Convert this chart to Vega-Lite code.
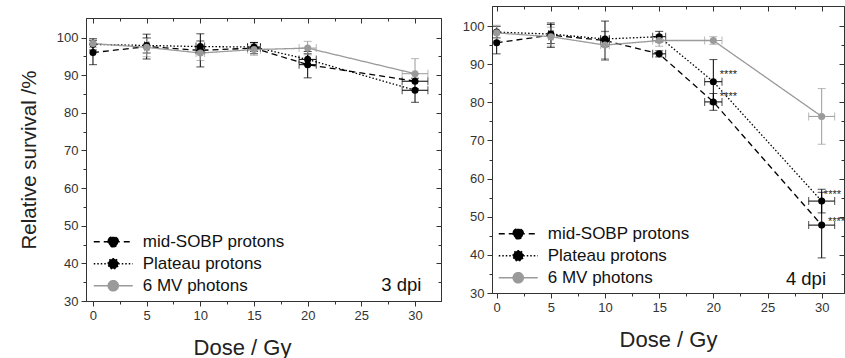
{
  "$schema": "https://vega.github.io/schema/vega-lite/v6.json",
  "padding": {"left": 18, "top": 5, "right": 0, "bottom": 0},
  "spacing": 19,
  "background": "white",
  "config": {
    "view": {"stroke": "#333333", "strokeWidth": 1},
    "font": "Liberation Sans",
    "axis": {"labelFont": "Liberation Sans", "labelFontSize": 13, "labelColor": "#333333", "titleFont": "Liberation Sans", "titleFontWeight": "normal", "titleColor": "#222222", "domainColor": "#333333", "tickColor": "#333333", "grid": false, "labelPadding": 3, "labelFlush": false, "labelOverlap": false},
    "title": {"font": "Liberation Sans"}
  },
  "datasets": {
    "d3": [
      {"series": "mid-SOBP protons", "dose": 0, "surv": 96.0, "yerr": 3.2, "xerr": 0},
      {"series": "mid-SOBP protons", "dose": 5, "surv": 97.6, "yerr": 3.3, "xerr": 0.2},
      {"series": "mid-SOBP protons", "dose": 10, "surv": 96.6, "yerr": 4.4, "xerr": 0.4},
      {"series": "mid-SOBP protons", "dose": 15, "surv": 97.2, "yerr": 1.5, "xerr": 0.6},
      {"series": "mid-SOBP protons", "dose": 20, "surv": 92.8, "yerr": 3.5, "xerr": 0.8},
      {"series": "mid-SOBP protons", "dose": 30, "surv": 88.4, "yerr": 2.0, "xerr": 1.2},
      {"series": "Plateau protons", "dose": 0, "surv": 98.2, "yerr": 1.5, "xerr": 0},
      {"series": "Plateau protons", "dose": 5, "surv": 97.9, "yerr": 2.0, "xerr": 0.2},
      {"series": "Plateau protons", "dose": 10, "surv": 97.6, "yerr": 1.5, "xerr": 0.4},
      {"series": "Plateau protons", "dose": 15, "surv": 97.5, "yerr": 1.2, "xerr": 0.6},
      {"series": "Plateau protons", "dose": 20, "surv": 94.2, "yerr": 1.5, "xerr": 0.8},
      {"series": "Plateau protons", "dose": 30, "surv": 86.0, "yerr": 3.2, "xerr": 1.2},
      {"series": "6 MV photons", "dose": 0, "surv": 98.4, "yerr": 1.0, "xerr": 0},
      {"series": "6 MV photons", "dose": 5, "surv": 97.4, "yerr": 2.5, "xerr": 0.2},
      {"series": "6 MV photons", "dose": 10, "surv": 95.9, "yerr": 2.0, "xerr": 0.4},
      {"series": "6 MV photons", "dose": 15, "surv": 96.8, "yerr": 1.5, "xerr": 0.6},
      {"series": "6 MV photons", "dose": 20, "surv": 97.2, "yerr": 1.8, "xerr": 0.8},
      {"series": "6 MV photons", "dose": 30, "surv": 90.4, "yerr": 4.0, "xerr": 1.2}
    ],
    "d4": [
      {"series": "mid-SOBP protons", "dose": 0, "surv": 95.6, "yerr": 2.9, "xerr": 0},
      {"series": "mid-SOBP protons", "dose": 5, "surv": 97.6, "yerr": 3.2, "xerr": 0.2},
      {"series": "mid-SOBP protons", "dose": 10, "surv": 96.2, "yerr": 5.1, "xerr": 0.4},
      {"series": "mid-SOBP protons", "dose": 15, "surv": 92.7, "yerr": 0.8, "xerr": 0.6},
      {"series": "mid-SOBP protons", "dose": 20, "surv": 80.1, "yerr": 2.2, "xerr": 0.8},
      {"series": "mid-SOBP protons", "dose": 30, "surv": 47.8, "yerr": 8.6, "xerr": 1.2},
      {"series": "Plateau protons", "dose": 0, "surv": 98.4, "yerr": 1.5, "xerr": 0},
      {"series": "Plateau protons", "dose": 5, "surv": 97.9, "yerr": 2.5, "xerr": 0.2},
      {"series": "Plateau protons", "dose": 10, "surv": 96.6, "yerr": 2.0, "xerr": 0.4},
      {"series": "Plateau protons", "dose": 15, "surv": 97.2, "yerr": 1.4, "xerr": 0.6},
      {"series": "Plateau protons", "dose": 20, "surv": 85.4, "yerr": 5.8, "xerr": 0.8},
      {"series": "Plateau protons", "dose": 30, "surv": 54.1, "yerr": 3.1, "xerr": 1.2},
      {"series": "6 MV photons", "dose": 0, "surv": 98.2, "yerr": 2.0, "xerr": 0},
      {"series": "6 MV photons", "dose": 5, "surv": 97.2, "yerr": 2.5, "xerr": 0.2},
      {"series": "6 MV photons", "dose": 10, "surv": 95.0, "yerr": 3.5, "xerr": 0.4},
      {"series": "6 MV photons", "dose": 15, "surv": 96.2, "yerr": 1.5, "xerr": 0.6},
      {"series": "6 MV photons", "dose": 20, "surv": 96.2, "yerr": 1.0, "xerr": 0.8},
      {"series": "6 MV photons", "dose": 30, "surv": 76.3, "yerr": 7.3, "xerr": 1.2}
    ]
  },
  "hconcat": [
    {
      "spacing": 0,
      "vconcat": [
        {
          "width": 355,
          "height": 11,
          "view": {"stroke": null},
          "data": {"values": []},
          "mark": "point"
        },
        {
          "width": 355,
          "height": 283,
          "data": {"name": "d3"},
          "layer": [
            {
              "mark": {"type": "line", "strokeWidth": 1.3},
              "encoding": {
                "x": {"field": "dose", "type": "quantitative", "scale": {"domain": [-0.65, 32.42], "nice": false, "zero": false},
                  "axis": {"orient": "bottom", "values": [0, 2.5, 5, 7.5, 10, 12.5, 15, 17.5, 20, 22.5, 25, 27.5, 30], "labelExpr": "datum.value % 5 === 0 ? datum.label : ''", "tickSize": {"condition": {"test": "datum.value % 5 === 0", "value": 5}, "value": 3}, "title": "Dose / Gy", "titleFontSize": 22, "titlePadding": 15, "titleX": 156}},
                "y": {"field": "surv", "type": "quantitative", "scale": {"domain": [30, 105.2], "nice": false, "zero": false},
                  "axis": {"orient": "left", "values": [30, 35, 40, 45, 50, 55, 60, 65, 70, 75, 80, 85, 90, 95, 100], "labelExpr": "datum.value % 10 === 0 ? datum.label : ''", "tickSize": {"condition": {"test": "datum.value % 10 === 0", "value": 5}, "value": 3}, "title": "Relative survival /%", "titleFontSize": 20.5, "titlePadding": 17}},
                "color": {"field": "series", "type": "nominal", "scale": {"domain": ["mid-SOBP protons", "Plateau protons", "6 MV photons"], "range": ["#000000", "#000000", "#9a9a9a"]},
                  "legend": {"orient": "none", "legendX": 16.75, "legendY": 213.25, "title": null, "padding": 0, "labelFont": "Liberation Sans", "labelFontSize": 17, "labelColor": "#111111", "symbolType": "M-2,0H2M-0.52,0A0.52,0.52,0,1,1,0.52,0A0.52,0.52,0,1,1,-0.52,0", "symbolSize": 380, "symbolStrokeWidth": 1.5, "labelOffset": 19, "rowPadding": 3, "labelLimit": 300, "encode": {"symbols": {"update": {"fill": [{"test": "datum.value === '6 MV photons'", "value": "#9a9a9a"}, {"value": "#000000"}]}}}}},
                "strokeDash": {"field": "series", "type": "nominal", "scale": {"domain": ["mid-SOBP protons", "Plateau protons", "6 MV photons"], "range": [[6, 4], [1.5, 2], [1, 0]]},
                  "legend": {"orient": "none", "legendX": 16.75, "legendY": 213.25, "title": null, "padding": 0, "labelFont": "Liberation Sans", "labelFontSize": 17, "labelColor": "#111111", "symbolType": "M-2,0H2M-0.52,0A0.52,0.52,0,1,1,0.52,0A0.52,0.52,0,1,1,-0.52,0", "symbolSize": 380, "symbolStrokeWidth": 1.5, "labelOffset": 19, "rowPadding": 3, "labelLimit": 300}}
              }
            },
            {
              "mark": {"type": "errorbar", "ticks": {"size": 8}, "thickness": 1},
              "encoding": {
                "x": {"field": "dose", "type": "quantitative", "axis": null},
                "y": {"field": "surv", "type": "quantitative", "axis": null},
                "yError": {"field": "yerr"},
                "color": {"field": "series", "type": "nominal"}
              }
            },
            {
              "transform": [{"filter": "datum.xerr > 0"}],
              "mark": {"type": "errorbar", "ticks": {"size": 8}, "thickness": 1},
              "encoding": {
                "x": {"field": "dose", "type": "quantitative", "axis": null},
                "xError": {"field": "xerr"},
                "y": {"field": "surv", "type": "quantitative", "axis": null},
                "color": {"field": "series", "type": "nominal"}
              }
            },
            {
              "mark": {"type": "point", "filled": true, "size": 50, "opacity": 1},
              "encoding": {
                "x": {"field": "dose", "type": "quantitative",
                  "axis": {"orient": "top", "values": [0, 2.5, 5, 7.5, 10, 12.5, 15, 17.5, 20, 22.5, 25, 27.5, 30], "labels": false, "title": null, "tickSize": {"condition": {"test": "datum.value % 5 === 0", "value": -5}, "value": -3}}},
                "y": {"field": "surv", "type": "quantitative",
                  "axis": {"orient": "right", "values": [30, 35, 40, 45, 50, 55, 60, 65, 70, 75, 80, 85, 90, 95, 100], "labels": false, "title": null, "tickSize": {"condition": {"test": "datum.value % 10 === 0", "value": -5}, "value": -3}}},
                "color": {"field": "series", "type": "nominal"}
              }
            },
            {
              "data": {"values": [{"x": 30.6, "y": 32.65, "label": "3 dpi"}]},
              "mark": {"type": "text", "fontSize": 18.5, "align": "right", "baseline": "alphabetic", "color": "#111111", "font": "Liberation Sans"},
              "encoding": {
                "x": {"field": "x", "type": "quantitative", "axis": null},
                "y": {"field": "y", "type": "quantitative", "axis": null},
                "text": {"field": "label"}
              }
            }
          ],
          "resolve": {"axis": {"x": "independent", "y": "independent"}}
        }
      ],
      "resolve": {"scale": {"color": "independent", "strokeDash": "independent"}, "legend": {"color": "independent", "strokeDash": "independent"}}
    },
    {
      "width": 352,
      "height": 287,
      "data": {"name": "d4"},
      "layer": [
        {
          "mark": {"type": "line", "strokeWidth": 1.3},
          "encoding": {
            "x": {"field": "dose", "type": "quantitative", "scale": {"domain": [-0.43, 32.06], "nice": false, "zero": false},
              "axis": {"orient": "bottom", "values": [0, 2.5, 5, 7.5, 10, 12.5, 15, 17.5, 20, 22.5, 25, 27.5, 30], "labelExpr": "datum.value % 5 === 0 ? datum.label : ''", "tickSize": {"condition": {"test": "datum.value % 5 === 0", "value": 5}, "value": 3}, "title": "Dose / Gy", "titleFontSize": 22, "titlePadding": 15}},
            "y": {"field": "surv", "type": "quantitative", "scale": {"domain": [30, 105.25], "nice": false, "zero": false},
              "axis": {"orient": "left", "values": [30, 35, 40, 45, 50, 55, 60, 65, 70, 75, 80, 85, 90, 95, 100], "labelExpr": "datum.value % 10 === 0 ? datum.label : ''", "tickSize": {"condition": {"test": "datum.value % 10 === 0", "value": 5}, "value": 3}, "title": null}},
            "color": {"field": "series", "type": "nominal", "scale": {"domain": ["mid-SOBP protons", "Plateau protons", "6 MV photons"], "range": ["#000000", "#000000", "#9a9a9a"]},
              "legend": {"orient": "none", "legendX": 15.75, "legendY": 217.25, "title": null, "padding": 0, "labelFont": "Liberation Sans", "labelFontSize": 17, "labelColor": "#111111", "symbolType": "M-2,0H2M-0.52,0A0.52,0.52,0,1,1,0.52,0A0.52,0.52,0,1,1,-0.52,0", "symbolSize": 380, "symbolStrokeWidth": 1.5, "labelOffset": 19, "rowPadding": 3, "labelLimit": 300, "encode": {"symbols": {"update": {"fill": [{"test": "datum.value === '6 MV photons'", "value": "#9a9a9a"}, {"value": "#000000"}]}}}}},
            "strokeDash": {"field": "series", "type": "nominal", "scale": {"domain": ["mid-SOBP protons", "Plateau protons", "6 MV photons"], "range": [[6, 4], [1.5, 2], [1, 0]]},
              "legend": {"orient": "none", "legendX": 15.75, "legendY": 217.25, "title": null, "padding": 0, "labelFont": "Liberation Sans", "labelFontSize": 17, "labelColor": "#111111", "symbolType": "M-2,0H2M-0.52,0A0.52,0.52,0,1,1,0.52,0A0.52,0.52,0,1,1,-0.52,0", "symbolSize": 380, "symbolStrokeWidth": 1.5, "labelOffset": 19, "rowPadding": 3, "labelLimit": 300}}
          }
        },
        {
          "mark": {"type": "errorbar", "ticks": {"size": 8}, "thickness": 1},
          "encoding": {
            "x": {"field": "dose", "type": "quantitative", "axis": null},
            "y": {"field": "surv", "type": "quantitative", "axis": null},
            "yError": {"field": "yerr"},
            "color": {"field": "series", "type": "nominal"}
          }
        },
        {
          "transform": [{"filter": "datum.xerr > 0"}],
          "mark": {"type": "errorbar", "ticks": {"size": 8}, "thickness": 1},
          "encoding": {
            "x": {"field": "dose", "type": "quantitative", "axis": null},
            "xError": {"field": "xerr"},
            "y": {"field": "surv", "type": "quantitative", "axis": null},
            "color": {"field": "series", "type": "nominal"}
          }
        },
        {
          "mark": {"type": "point", "filled": true, "size": 50, "opacity": 1},
          "encoding": {
            "x": {"field": "dose", "type": "quantitative",
              "axis": {"orient": "top", "values": [0, 2.5, 5, 7.5, 10, 12.5, 15, 17.5, 20, 22.5, 25, 27.5, 30], "labels": false, "title": null, "tickSize": {"condition": {"test": "datum.value % 5 === 0", "value": -5}, "value": -3}}},
            "y": {"field": "surv", "type": "quantitative",
              "axis": {"orient": "right", "values": [30, 35, 40, 45, 50, 55, 60, 65, 70, 75, 80, 85, 90, 95, 100], "labels": false, "title": null, "tickSize": {"condition": {"test": "datum.value % 10 === 0", "value": -5}, "value": -3}}},
            "color": {"field": "series", "type": "nominal"}
          }
        },
        {
          "data": {"values": [
            {"x": 20.6, "y": 87.2, "label": "****"},
            {"x": 20.6, "y": 81.4, "label": "****"},
            {"x": 30.2, "y": 55.6, "label": "****"},
            {"x": 30.58, "y": 48.6, "label": "****"}
          ]},
          "mark": {"type": "text", "fontSize": 11, "align": "left", "baseline": "middle", "color": "#222222", "font": "Liberation Sans", "clip": true},
          "encoding": {
            "x": {"field": "x", "type": "quantitative", "axis": null},
            "y": {"field": "y", "type": "quantitative", "axis": null},
            "text": {"field": "label"}
          }
        },
        {
          "data": {"values": [{"x": 30.4, "y": 32.2, "label": "4 dpi"}]},
          "mark": {"type": "text", "fontSize": 18.5, "align": "right", "baseline": "alphabetic", "color": "#111111", "font": "Liberation Sans"},
          "encoding": {
            "x": {"field": "x", "type": "quantitative", "axis": null},
            "y": {"field": "y", "type": "quantitative", "axis": null},
            "text": {"field": "label"}
          }
        }
      ],
      "resolve": {"axis": {"x": "independent", "y": "independent"}}
    }
  ],
  "resolve": {"scale": {"color": "independent", "strokeDash": "independent"}, "legend": {"color": "independent", "strokeDash": "independent"}}
}
